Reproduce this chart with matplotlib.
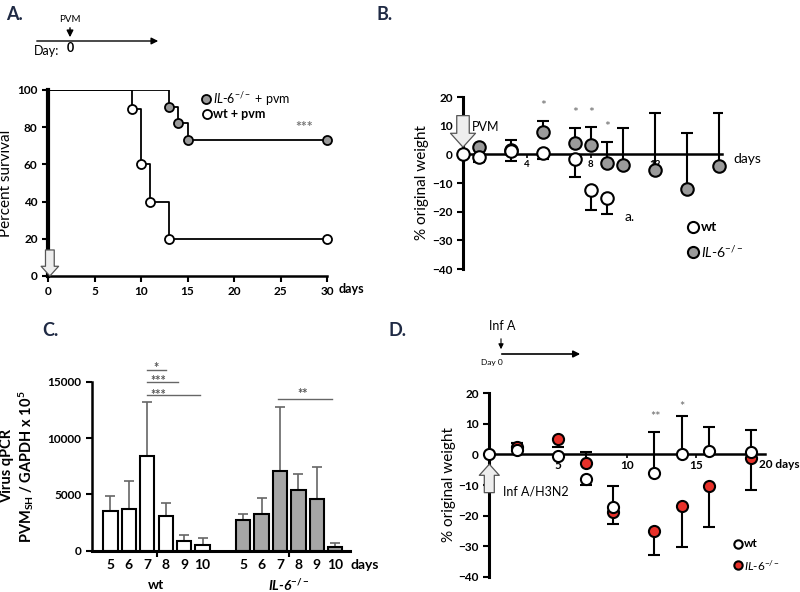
import numpy as np
import matplotlib
matplotlib.use("Agg")
import matplotlib.pyplot as plt

plt.rcParams['font.family'] = ['Lato', 'DejaVu Sans']
plt.rcParams['mathtext.fontset'] = 'custom'
plt.rcParams['mathtext.rm'] = 'Lato'
plt.rcParams['mathtext.it'] = 'Lato:italic'
plt.rcParams['mathtext.bf'] = 'Lato:bold'

# ── Data ─────────────────────────────────────────────────────
# A: survival
surv_wt_days = [0, 9, 10, 11, 13, 30]
surv_wt = [100, 90, 60, 40, 20, 20]
surv_ko_days = [0, 13, 14, 15, 30]
surv_ko = [100, 91, 82, 73, 73]

# B: PVM weight change
b_wt_days = [0, 1, 3, 5, 7, 8, 9]
b_wt = [0, -0.8, 1.3, 0.4, -1.7, -12.5, -15.1]
b_wt_lo = [0, -2.8, -2.3, -1.7, -7.8, -19.3, -20.7]
b_wt_hi = [0, -0.8, 4.9, 0.4, -1.7, -12.5, -15.1]
b_ko_days = [1, 3, 5, 7, 8, 9, 10, 12, 14, 16]
b_ko = [2.5, 1.5, 7.7, 3.9, 3.2, -2.9, -3.6, -5.3, -12.2, -4.1]
b_ko_hi = [2.5, 1.5, 11.8, 9.2, 9.7, 4.4, 9.3, 14.4, 7.4, 14.4]
b_stars_days = [5, 7, 8, 9]
b_stars_y = [16.7, 14.4, 14.4, 9.4]

# C: virus qPCR
c_days = ['5', '6', '7', '8', '9', '10']
c_wt = [3500, 3700, 8400, 3100, 900, 500]
c_wt_err = [4850, 6200, 13250, 4200, 1400, 1100]
c_ko = [2750, 3300, 7050, 5400, 4600, 350]
c_ko_err = [3250, 4700, 12800, 6800, 7400, 650]

# D: Influenza A weight change
d_wt_days = [0, 2, 5, 7, 9, 12, 14, 16, 19]
d_wt = [0, 1.4, -0.4, -8.1, -17.1, -6.2, 0, 1.2, 0.65]
d_wt_lo = [0, 1.4, -0.4, -10.0, -17.1, -6.2, 0, 1.2, 0.65]
d_wt_hi = [0, 3.6, -0.4, -8.1, -10.4, 7.4, 12.5, 9.1, 8.0]
d_ko_days = [2, 5, 7, 9, 12, 14, 16, 19]
d_ko = [2.5, 5.0, -2.9, -18.8, -25.0, -16.9, -10.3, -1.3]
d_ko_lo = [2.5, 2.3, -2.9, -22.6, -32.9, -30.4, -23.9, -11.7]
d_ko_hi = [3.6, 5.0, 0.8, -18.8, -25.0, -16.9, -10.3, -1.3]

GRAY = '#9a9a9a'
RED = '#e8312a'
NAVY = '#1f2a44'
KO = r'$\mathit{IL}$-$\mathit{6}^{-/-}$'

W, H = 800, 592
fig = plt.figure(figsize=(8, 5.92), dpi=100)


def fx(px):
    return px / W


def fy(py):
    return 1 - py / H


def ax_at(l, t, r, b):
    return fig.add_axes([fx(l), fy(b), fx(r) - fx(l), fy(t) - fy(b)])


def hollow_arrow(ax, x, y0, y1, scale=14):
    ax.annotate('', xy=(x, y1), xytext=(x, y0), annotation_clip=False,
                arrowprops=dict(arrowstyle='simple,head_length=0.5,head_width=0.9,tail_width=0.45',
                                fc='#eeeeee', ec='#555555', lw=0.9, mutation_scale=scale,
                                shrinkA=0, shrinkB=0))


def bold_ticks(ax, size=8.5):
    for lab in ax.get_xticklabels() + ax.get_yticklabels():
        lab.set_fontweight('bold')
        lab.set_fontsize(size)


# ── Panel labels and timelines ───────────────────────────────
for lab, px, py in [('A.', 14, 14), ('B.', 385, 14), ('C.', 50, 330), ('D.', 398, 330)]:
    fig.text(fx(px), fy(py), lab, fontsize=13, fontweight='bold', color=NAVY,
             ha='center', va='center')

# timeline A
fig.add_artist(matplotlib.patches.FancyArrowPatch(
    (fx(34), fy(41)), (fx(161), fy(41)), transform=fig.transFigure,
    arrowstyle='-|>,head_length=4,head_width=2', color='black', lw=1.0))
fig.add_artist(matplotlib.patches.FancyArrowPatch(
    (fx(70), fy(25)), (fx(70), fy(40)), transform=fig.transFigure,
    arrowstyle='-|>,head_length=4,head_width=2', color='black', lw=1.0))
fig.text(fx(70), fy(19), 'PVM', fontsize=7, ha='center', va='center')
fig.text(fx(47), fy(51), 'Day:', fontsize=9, ha='center', va='center')
fig.text(fx(70), fy(48), '0', fontsize=9, fontweight='bold', ha='center', va='center')

# timeline D
fig.add_artist(matplotlib.patches.FancyArrowPatch(
    (fx(499), fy(354)), (fx(583), fy(354)), transform=fig.transFigure,
    arrowstyle='-|>,head_length=4,head_width=2', color='black', lw=1.2))
fig.add_artist(matplotlib.patches.FancyArrowPatch(
    (fx(501), fy(336)), (fx(501), fy(352)), transform=fig.transFigure,
    arrowstyle='-|>,head_length=3,head_width=1.5', color='black', lw=0.8))
fig.text(fx(502), fy(326), 'Inf A', fontsize=9, ha='center', va='center')
fig.text(fx(492), fy(363), 'Day 0', fontsize=6, ha='center', va='center')

# ── A: survival ──────────────────────────────────────────────
axA = ax_at(48, 90, 327, 276)
axA.step(surv_ko_days, surv_ko, where='post', color='black', lw=1.3)
axA.step(surv_wt_days, surv_wt, where='post', color='black', lw=1.3)
axA.plot(surv_ko_days[1:], surv_ko[1:], 'o', ms=6.5, mfc=GRAY, mec='black', mew=1.3,
         clip_on=False, zorder=3)
axA.plot(surv_wt_days[1:], surv_wt[1:], 'o', ms=6.5, mfc='white', mec='black', mew=1.3,
         clip_on=False, zorder=3)
axA.set_xlim(0, 30)
axA.set_ylim(0, 100)
axA.set_xticks(range(0, 31, 5))
axA.set_yticks(range(0, 101, 20))
for s in ['top', 'right']:
    axA.spines[s].set_visible(False)
axA.spines['left'].set_linewidth(3)
axA.spines['bottom'].set_linewidth(1.8)
axA.tick_params(width=1.5, length=4)
bold_ticks(axA)
axA.set_ylabel('Percent survival', fontsize=11, labelpad=3)
axA.text(31.2, -4, 'days', fontsize=9, fontweight='bold', ha='left', va='top')
axA.text(27.5, 77, '***', fontsize=10, color='#777777', ha='center', va='bottom',
         fontweight='bold')
hollow_arrow(axA, 0.2, 14, 0)
axA.plot([0.566], [0.952], 'o', ms=6.5, mfc=GRAY, mec='black', mew=1.3,
         transform=axA.transAxes, clip_on=False)
axA.text(0.592, 0.952, KO + ' + pvm', transform=axA.transAxes, fontsize=9,
         va='center')
axA.plot([0.57], [0.871], 'o', ms=6.5, mfc='white', mec='black', mew=1.3,
         transform=axA.transAxes, clip_on=False)
axA.text(0.592, 0.871, 'wt + pvm', transform=axA.transAxes, fontsize=9,
         fontweight='bold', va='center')

# ── B: PVM weight ────────────────────────────────────────────
axB = ax_at(463, 97, 722, 269)
axB.errorbar(b_ko_days, b_ko,
             yerr=[np.zeros(len(b_ko)), np.array(b_ko_hi) - np.array(b_ko)],
             fmt='none', ecolor='black', elinewidth=1.5, capsize=4, capthick=1.5, zorder=2)
axB.errorbar(b_wt_days, b_wt,
             yerr=[np.array(b_wt) - np.array(b_wt_lo), np.array(b_wt_hi) - np.array(b_wt)],
             fmt='none', ecolor='black', elinewidth=1.5, capsize=4, capthick=1.5, zorder=2)
axB.plot(b_ko_days, b_ko, 'o', ms=9, mfc=GRAY, mec='black', mew=1.5, ls='none',
         clip_on=False, zorder=3)
axB.plot(b_wt_days, b_wt, 'o', ms=9, mfc='white', mec='black', mew=1.5, ls='none',
         clip_on=False, zorder=4)
for d, y in zip(b_stars_days, b_stars_y):
    axB.text(d, y, '*', fontsize=10, color='#666666', ha='center', va='center')
axB.set_xlim(0, 16.2)
axB.set_ylim(-40, 20)
axB.set_yticks(range(-40, 21, 10))
axB.set_xticks([4, 8, 12])
axB.spines['bottom'].set_position(('data', 0))
for s in ['top', 'right']:
    axB.spines[s].set_visible(False)
axB.spines['left'].set_linewidth(2.2)
axB.spines['bottom'].set_linewidth(1.8)
axB.tick_params(axis='y', width=1.5, length=4)
axB.tick_params(axis='x', width=1.2, length=3, pad=1)
bold_ticks(axB)
for lab in axB.get_xticklabels():
    lab.set_fontsize(7)
axB.set_ylabel('% original weight', fontsize=11, labelpad=2)
axB.text(16.9, -1.5, 'days', fontsize=10, ha='left', va='center')
axB.text(10.1, -21.9, 'a.', fontsize=10, ha='left', va='center')
axB.text(0.55, 9.7, 'PVM', fontsize=9, ha='left', va='center')
hollow_arrow(axB, 0, 13.5, 2.5, scale=20)
axB.plot([14.4], [-25.3], 'o', ms=8, mfc='white', mec='black', mew=1.5, clip_on=False)
axB.text(14.9, -25.3, 'wt', fontsize=10, fontweight='bold', va='center')
axB.plot([14.4], [-34.1], 'o', ms=8, mfc=GRAY, mec='black', mew=1.5, clip_on=False)
axB.text(14.9, -34.1, KO, fontsize=10, va='center')

# ── C: virus qPCR ────────────────────────────────────────────
axC = ax_at(92, 382, 350, 550.7)
x_wt = np.arange(1, 7)
x_ko = np.arange(1, 7) + 7.2
axC.bar(x_wt, c_wt, width=0.78, color='white', edgecolor='black', lw=1.5, zorder=2)
axC.bar(x_ko, c_ko, width=0.78, color='#a6a6a6', edgecolor='black', lw=1.5, zorder=2)
axC.errorbar(x_wt, c_wt, yerr=[np.zeros(6), np.array(c_wt_err) - np.array(c_wt)],
             fmt='none', ecolor='#666666', elinewidth=1.2, capsize=3.5, capthick=1.2, zorder=1)
axC.errorbar(x_ko, c_ko, yerr=[np.zeros(6), np.array(c_ko_err) - np.array(c_ko)],
             fmt='none', ecolor='#666666', elinewidth=1.2, capsize=3.5, capthick=1.2, zorder=1)
axC.set_xlim(0, 14)
axC.set_ylim(0, 15000)
axC.set_yticks([0, 5000, 10000, 15000])
axC.set_xticks([3.5, 10.7])
axC.set_xticklabels([])
for s in ['top', 'right']:
    axC.spines[s].set_visible(False)
axC.spines['left'].set_linewidth(1.8)
axC.spines['bottom'].set_linewidth(2.2)
axC.tick_params(width=1.5, length=4)
bold_ticks(axC)
for xs in (x_wt, x_ko):
    for x, lab in zip(xs, c_days):
        axC.text(x, -0.085, lab, transform=axC.get_xaxis_transform(), fontsize=10,
                 fontweight='bold', ha='center', va='center')
axC.text(14.8, -0.085, 'days', transform=axC.get_xaxis_transform(), fontsize=10,
         fontweight='bold', ha='center', va='center')
axC.text(3.5, -0.205, 'wt', transform=axC.get_xaxis_transform(), fontsize=10,
         fontweight='bold', ha='center', va='center')
axC.text(10.7, -0.205, 'IL-6$^{\\mathbf{-/-}}$', transform=axC.get_xaxis_transform(),
         fontsize=10, fontweight='bold', fontstyle='italic', ha='center', va='center')
axC.set_ylabel('Virus qPCR\nPVM$_{\\mathbf{SH}}$ / GAPDH x 10$^{\\mathbf{5}}$',
               fontsize=10.5, fontweight='bold', labelpad=8)
# significance lines
for x1, x2, y, ty, stars in [(3, 4, 16050, 16650, '*'), (3, 4.65, 15030, 15450, '***'),
                             (3, 5.85, 13840, 14250, '***'), (8.9 + 1.2, 13.0, 13460, 14300, '**')]:
    axC.plot([x1, x2], [y, y], color='#666666', lw=1.0, clip_on=False)
    tx = 3.6 if stars == '***' else (3.5 if stars == '*' else 11.45)
    axC.text(tx, ty - 400, stars, fontsize=9, color='#555555', fontweight='bold',
             ha='center', va='center')

# ── D: Influenza A weight ────────────────────────────────────
axD = ax_at(489.3, 393.3, 764.5, 576.7)
axD.errorbar(d_ko_days, d_ko,
             yerr=[np.array(d_ko) - np.array(d_ko_lo), np.array(d_ko_hi) - np.array(d_ko)],
             fmt='none', ecolor='black', elinewidth=1.5, capsize=4, capthick=1.5, zorder=2)
axD.errorbar(d_wt_days, d_wt,
             yerr=[np.array(d_wt) - np.array(d_wt_lo), np.array(d_wt_hi) - np.array(d_wt)],
             fmt='none', ecolor='black', elinewidth=1.5, capsize=4, capthick=1.5, zorder=2)
axD.plot(d_ko_days, d_ko, 'o', ms=8, mfc=RED, mec='black', mew=1.5, ls='none',
         clip_on=False, zorder=3)
axD.plot(d_wt_days, d_wt, 'o', ms=8, mfc='white', mec='black', mew=1.5, ls='none',
         clip_on=False, zorder=4)
axD.set_xlim(0, 20)
axD.set_ylim(-40, 20)
axD.set_yticks(range(-40, 21, 10))
axD.set_xticks([5, 10, 15])
axD.spines['bottom'].set_position(('data', 0))
for s in ['top', 'right']:
    axD.spines[s].set_visible(False)
axD.spines['left'].set_linewidth(2.2)
axD.spines['bottom'].set_linewidth(1.8)
axD.tick_params(axis='y', width=1.5, length=4)
axD.tick_params(axis='x', width=1.2, length=3, pad=1)
bold_ticks(axD)
axD.set_ylabel('% original weight', fontsize=11, labelpad=2)
axD.text(19.6, -3.3, '20 days', fontsize=8.5, fontweight='bold', ha='left', va='center')
axD.text(12.1, 12.3, '**', fontsize=9, color='#666666', ha='center', va='center')
axD.text(14.0, 15.6, '*', fontsize=9, color='#666666', ha='center', va='center')
axD.text(1.0, -12.2, 'Inf A/H3N2', fontsize=9, ha='left', va='center')
hollow_arrow(axD, 0, -12.5, -3.2, scale=16)
axD.plot([18.1], [-29.2], 'o', ms=6, mfc='white', mec='black', mew=1.5, clip_on=False)
axD.text(18.5, -29.2, 'wt', fontsize=8.5, fontweight='bold', va='center')
axD.plot([18.1], [-36.3], 'o', ms=6, mfc=RED, mec='black', mew=1.5, clip_on=False)
axD.text(18.5, -36.3, KO, fontsize=8.5, va='center')

fig.savefig('out.png', dpi=100)
